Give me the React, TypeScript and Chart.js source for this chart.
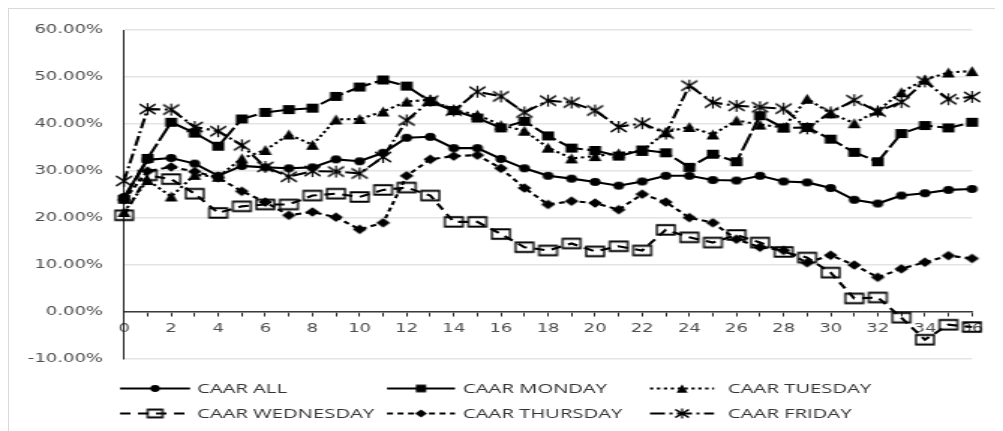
import React, { useEffect, useRef } from 'react';
import { Chart, registerables } from 'chart.js';

Chart.register(...registerables);

// ---------- data ----------
const DAYS = [0, 1, 2, 3, 4, 5, 6, 7, 8, 9, 10, 11, 12, 13, 14, 15, 16, 17, 18, 19, 20, 21, 22, 23, 24, 25, 26, 27, 28, 29, 30, 31, 32, 33, 34, 35, 36];

const CAAR_ALL = [24.5, 32.4, 32.8, 31.6, 29.0, 31.1, 30.8, 30.6, 30.8, 32.5, 32.1, 33.9, 37.1, 37.3, 34.9, 34.9, 32.6, 30.6, 29.0, 28.4, 27.7, 26.9, 27.8, 29.0, 29.0, 28.1, 28.0, 29.0, 27.8, 27.6, 26.4, 23.9, 23.1, 24.8, 25.3, 26.0, 26.2];
const CAAR_MONDAY = [24.0, 32.7, 40.4, 38.1, 35.3, 41.1, 42.5, 43.1, 43.4, 45.9, 47.9, 49.4, 48.1, 44.8, 42.9, 41.3, 39.2, 40.6, 37.5, 34.9, 34.4, 33.2, 34.5, 33.9, 30.8, 33.6, 32.0, 41.8, 39.2, 39.3, 36.8, 34.0, 32.0, 38.0, 39.7, 39.2, 40.4];
const CAAR_TUESDAY = [21.3, 28.1, 24.6, 29.2, 28.8, 32.7, 34.5, 37.8, 35.6, 41.0, 41.1, 42.7, 44.8, 45.2, 43.0, 42.0, 39.8, 38.6, 35.0, 32.7, 33.2, 33.8, 34.3, 38.3, 39.4, 37.8, 40.8, 39.9, 39.3, 45.4, 42.3, 40.2, 42.9, 46.8, 49.5, 51.0, 51.3];
const CAAR_WEDNESDAY = [20.6, 29.1, 28.3, 25.2, 21.1, 22.5, 22.9, 22.9, 24.8, 25.2, 24.5, 26.0, 26.5, 24.8, 19.2, 19.2, 16.6, 13.8, 13.1, 14.6, 12.9, 14.0, 13.1, 17.5, 15.9, 14.8, 16.4, 14.8, 12.8, 11.6, 8.4, 2.9, 3.1, -1.2, -5.9, -2.7, -3.2];
const CAAR_THURSDAY = [23.9, 30.0, 30.9, 29.9, 28.6, 25.7, 23.4, 20.6, 21.3, 20.2, 17.6, 19.0, 29.0, 32.5, 33.2, 33.4, 30.6, 26.4, 22.9, 23.6, 23.2, 21.8, 25.1, 23.4, 20.1, 19.0, 15.5, 13.8, 13.1, 10.5, 12.1, 10.0, 7.4, 9.2, 10.6, 12.0, 11.4];
const CAAR_FRIDAY = [27.9, 43.2, 43.1, 39.4, 38.5, 35.5, 30.9, 28.8, 30.0, 29.9, 29.5, 33.0, 40.8, 45.0, 42.9, 46.9, 45.9, 42.5, 45.0, 44.6, 42.9, 39.4, 40.2, 38.0, 48.2, 44.6, 43.9, 43.6, 43.3, 39.1, 42.5, 45.1, 42.7, 44.7, 49.1, 45.3, 45.8];

const SERIES_NAMES = ['CAAR ALL', 'CAAR MONDAY', 'CAAR TUESDAY', 'CAAR WEDNESDAY', 'CAAR THURSDAY', 'CAAR FRIDAY'];
const SERIES_VALUES = [CAAR_ALL, CAAR_MONDAY, CAAR_TUESDAY, CAAR_WEDNESDAY, CAAR_THURSDAY, CAAR_FRIDAY];
const Y_MIN = -10;
const Y_MAX = 60;
const Y_STEP = 10;

// ---------- geometry (canvas is stretched horizontally like the original picture) ----------
const CSS_W = 994;
const CSS_H = 422;
const CW = 663;
const SX = CSS_W / CW;
const OFF = 9;
const toCx = (X: number) => (X - OFF) / SX;
const toCy = (Y: number) => Y - OFF;

const AREA_L = toCx(124);
const AREA_R = toCx(972);
const AREA_T = toCy(27);
const AREA_B = toCy(359);

const LINE_W = 2.1;

const STYLES = [
  { marker: 'circle', dash: [] as number[] },
  { marker: 'square', dash: [18, 3] },
  { marker: 'triangle', dash: [2.2, 2.4] },
  { marker: 'open', dash: [7, 5] },
  { marker: 'diamond', dash: [4, 3] },
  { marker: 'star', dash: [10, 3, 2, 3] },
];

function makeMarker(kind: string, k = 1): HTMLCanvasElement {
  const dims: Record<string, [number, number]> = {
    circle: [11, 8],
    square: [12, 9],
    triangle: [13, 10],
    open: [20, 11.5],
    diamond: [14, 9.5],
    star: [16, 12],
  };
  const [w0, h0] = dims[kind];
  const w = w0 * k;
  const h = h0 * k;
  const c = document.createElement('canvas');
  c.width = Math.ceil(w / SX) + 4;
  c.height = Math.ceil(h) + 4;
  const g = c.getContext('2d')!;
  g.translate(c.width / 2, c.height / 2);
  g.scale(1 / SX, 1);
  g.fillStyle = '#000';
  g.strokeStyle = '#000';
  g.beginPath();
  if (kind === 'circle') {
    g.ellipse(0, 0, w / 2, h / 2, 0, 0, Math.PI * 2);
    g.fill();
  } else if (kind === 'square') {
    g.fillRect(-w / 2, -h / 2, w, h);
  } else if (kind === 'triangle') {
    g.moveTo(0, -h / 2);
    g.lineTo(w / 2, h / 2);
    g.lineTo(-w / 2, h / 2);
    g.closePath();
    g.fill();
  } else if (kind === 'open') {
    g.lineWidth = 2;
    g.strokeRect(-w / 2 + 1, -h / 2 + 1, w - 2, h - 2);
  } else if (kind === 'diamond') {
    g.moveTo(0, -h / 2);
    g.lineTo(w / 2, 0);
    g.lineTo(0, h / 2);
    g.lineTo(-w / 2, 0);
    g.closePath();
    g.fill();
  } else if (kind === 'star') {
    g.lineWidth = 1.8;
    g.moveTo(-w / 2, -h / 2 + 1);
    g.lineTo(w / 2, h / 2 - 1);
    g.moveTo(-w / 2, h / 2 - 1);
    g.lineTo(w / 2, -h / 2 + 1);
    g.moveTo(0, -h / 2);
    g.lineTo(0, h / 2);
    g.stroke();
  }
  return c;
}

export default function App() {
  const ref = useRef<HTMLCanvasElement>(null);

  useEffect(() => {
    document.documentElement.style.overflow = 'hidden';
    const markers = STYLES.map((s) => makeMarker(s.marker));
    const legendMarkers = STYLES.map((s) => makeMarker(s.marker, 0.85));

    const legendPlugin = {
      id: 'gridLegend',
      afterDraw(chart: any) {
        const ctx = chart.ctx as CanvasRenderingContext2D;
        const colStart = [120, 387, 650];
        const colEnd = [190, 455, 714];
        const colText = [197, 463, 728];
        const rowY = [388.5, 413.5];
        ctx.save();
        SERIES_NAMES.forEach((name, i) => {
          const col = i % 3;
          const row = Math.floor(i / 3);
          const y = toCy(rowY[row]);
          const x0 = toCx(colStart[col]);
          const x1 = toCx(colEnd[col]);
          ctx.strokeStyle = '#000';
          ctx.lineWidth = LINE_W;
          ctx.setLineDash(i === 1 ? [] : STYLES[i].dash);
          ctx.beginPath();
          ctx.moveTo(x0, y);
          ctx.lineTo(x1, y);
          ctx.stroke();
          ctx.setLineDash([]);
          const m = legendMarkers[i];
          const mx = (x0 + x1) / 2;
          ctx.drawImage(m, mx - m.width / 2, y - m.height / 2);
          ctx.fillStyle = '#333333';
          ctx.font = '13.5px "Open Sans"';
          ctx.textBaseline = 'middle';
          ctx.textAlign = 'left';
          ctx.fillText(name, toCx(colText[col]), y + 0.5);
        });
        ctx.restore();
      },
    };

    const chart = new Chart(ref.current!, {
      type: 'line',
      data: {
        labels: DAYS.map(String),
        datasets: SERIES_NAMES.map((name, i) => ({
          label: name,
          data: SERIES_VALUES[i],
          borderColor: '#000',
          backgroundColor: '#000',
          borderWidth: LINE_W,
          borderDash: STYLES[i].dash,
          pointStyle: markers[i] as any,
          pointRadius: 5,
          tension: 0,
          fill: false,
          order: 5 - i,
        })),
      },
      options: {
        responsive: false,
        animation: false,
        devicePixelRatio: 1,
        events: [],
        layout: {
          padding: { left: 0, top: AREA_T, right: CW - AREA_R, bottom: CSS_H - AREA_B },
        },
        plugins: {
          legend: { display: false },
          tooltip: { enabled: false },
        },
        scales: {
          x: {
            type: 'category',
            position: { y: 0 } as any,
            offset: false,
            grid: {
              display: true,
              drawOnChartArea: false,
              drawTicks: true,
              tickLength: 4,
              color: '#222',
              lineWidth: 1,
            },
            border: { display: true, color: '#3a3a3a', width: 1.5 },
            ticks: {
              autoSkip: false,
              maxRotation: 0,
              minRotation: 0,
              padding: 6,
              color: '#4d4d4d',
              font: { family: '"DejaVu Sans"', size: 12 },
              callback: (_v: any, index: number) => (DAYS[index] % 2 === 0 ? String(DAYS[index]) : ''),
            },
          },
          y: {
            type: 'linear',
            min: Y_MIN,
            max: Y_MAX,
            afterFit: (scale: any) => {
              scale.width = AREA_L;
            },
            grid: {
              color: '#e4e4e4',
              lineWidth: 1.5,
              drawTicks: false,
            },
            border: { display: true, color: '#1a1a1a', width: 1 },
            ticks: {
              stepSize: Y_STEP,
              padding: 14,
              color: '#4d4d4d',
              font: { family: '"DejaVu Sans"', size: 12 },
              callback: (v: any) => Number(v).toFixed(2) + '%',
            },
          },
        },
      },
      plugins: [legendPlugin],
    });

    return () => chart.destroy();
  }, []);

  return (
    <div
      style={{
        width: CSS_W + 1,
        height: CSS_H + 1,
        boxSizing: 'border-box',
        borderTop: '1px solid #d9d9d9',
        borderLeft: '1px solid #d9d9d9',
        background: '#fff',
      }}
    >
      <canvas
        ref={ref}
        width={CW}
        height={CSS_H}
        style={{ width: CSS_W + 'px', height: CSS_H + 'px', display: 'block' }}
      />
    </div>
  );
}
